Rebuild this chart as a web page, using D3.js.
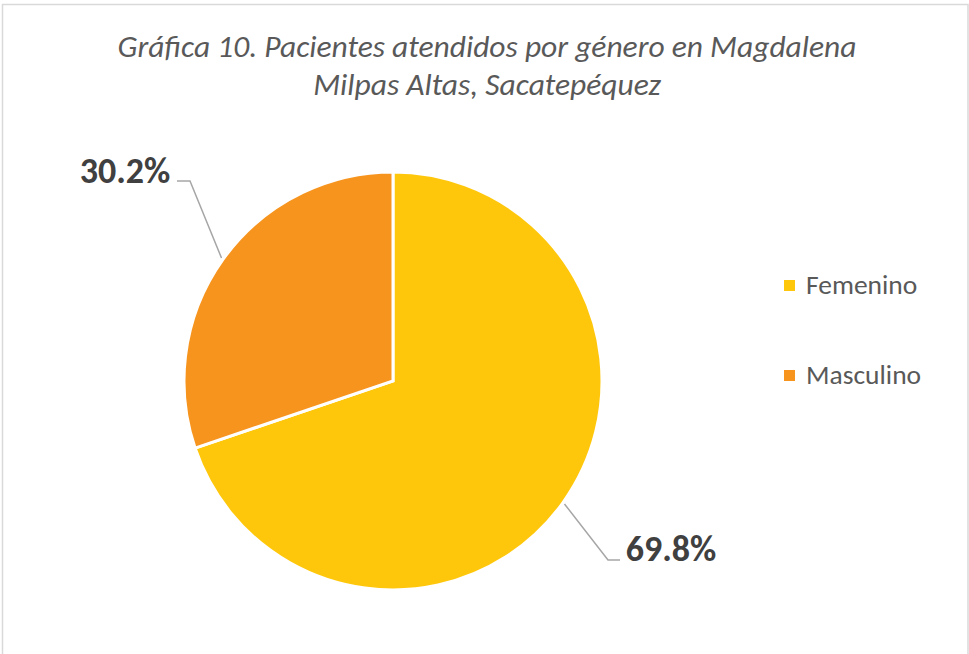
<!DOCTYPE html>
<html>
<head>
<meta charset="utf-8">
<script src="https://cdn.jsdelivr.net/npm/d3@7"></script>
<style>
  body { margin: 0; background: #fff; }
  text { font-family: Carlito, "Liberation Sans Narrow", "Open Sans", sans-serif; }
</style>
</head>
<body>
<svg id="pie-chart" width="969" height="654"></svg>
<script>
// values
var categories = ["Femenino", "Masculino"];
var percents = [69.8, 30.2];
var colors = ["#FFC70B", "#F7941E"];
var titleLines = ["Gráfica 10. Pacientes atendidos por género en Magdalena", "Milpas Altas, Sacatepéquez"];

var svg = d3.select("#pie-chart");
var cx = 393, cy = 381, radius = 209;

// chart border (bottom runs past the window)
svg.append("rect")
    .attr("x", 2.5).attr("y", 4.5)
    .attr("width", 965.5).attr("height", 700)
    .style("fill", "none")
    .style("stroke", "#d9d9d9")
    .style("stroke-width", 1.5);

svg.append("g").selectAll("text")
    .data(titleLines)
    .enter().append("text")
    .attr("x", 487)
    .attr("y", function(d, i) { return 57 + i * 38; })
    .attr("text-anchor", "middle")
    .style("font-size", "31.5px")
    .style("font-style", "italic")
    .style("font-weight", 300)
    .style("fill", "#595959")
    .text(function(d) { return d; });

var pie = d3.pie().sort(null).value(function(d) { return d; });
var arcs = pie(percents);
var arc = d3.arc().innerRadius(0).outerRadius(radius);

var g = svg.append("g")
    .attr("transform", "translate(" + cx + "," + cy + ")");

g.selectAll("path")
    .data(arcs)
    .enter().append("path")
    .attr("d", arc)
    .style("fill", function(d, i) { return colors[i]; })
    .style("stroke", "#fff")
    .style("stroke-width", 3)
    .style("stroke-linejoin", "miter");

// data labels with leader lines, placed outside like excel does
var labelPos = [
  {x: 671, y: 561, anchor: "middle", elbow: [[620, 560], [608, 560]]},
  {x: 125, y: 183, anchor: "middle", elbow: [[177, 181], [190, 181]]}
];
var outer = d3.arc().innerRadius(radius + 2).outerRadius(radius + 2);

arcs.forEach(function(d, i) {
  var p = outer.centroid(d);
  var lp = labelPos[i];
  var pts = [lp.elbow[0], lp.elbow[1], [cx + p[0], cy + p[1]]];
  svg.append("path")
      .attr("d", d3.line()(pts))
      .style("fill", "none")
      .style("stroke", "#a6a6a6")
      .style("stroke-width", 1.5);
  svg.append("text")
      .attr("x", lp.x)
      .attr("y", lp.y)
      .attr("text-anchor", lp.anchor)
      .style("font-size", "36px")
      .style("font-weight", "bold")
      .style("fill", "#404040")
      .text(d3.format(".1f")(d.data) + "%");
});

var legend = svg.append("g").selectAll("g")
    .data(categories)
    .enter().append("g")
    .attr("transform", function(d, i) { return "translate(784," + (280 + i * 90) + ")"; });

legend.append("rect")
    .attr("width", 11).attr("height", 11)
    .style("fill", function(d, i) { return colors[i]; });

legend.append("text")
    .attr("x", 22)
    .attr("y", 14)
    .style("font-size", "27.5px")
    .style("fill", "#595959")
    .text(function(d) { return d; });
</script>
</body>
</html>
